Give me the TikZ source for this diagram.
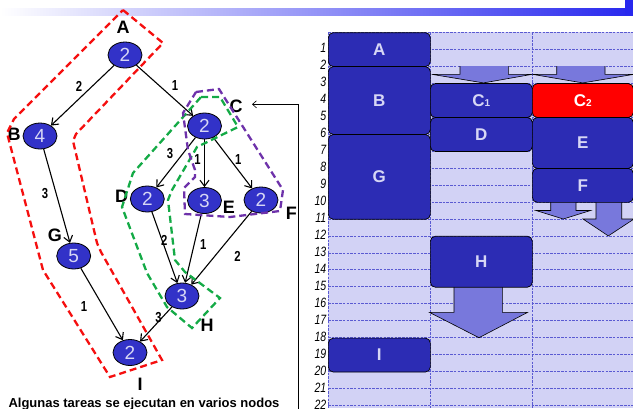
\documentclass[tikz,border=0pt]{standalone}
\usepackage{fontspec}
\setmainfont{Liberation Sans}
\newfontfamily\narrowfont[FakeStretch=0.78]{Liberation Sans}
\usetikzlibrary{shapes.geometric,arrows.meta}
\definecolor{boxblue}{RGB}{44,44,180}
\definecolor{nodeblue}{RGB}{50,50,200}
\definecolor{boxtext}{RGB}{215,215,245}
\definecolor{gridbg}{RGB}{210,210,245}
\definecolor{gridline}{RGB}{90,90,210}
\definecolor{arrowfill}{RGB}{120,120,220}
\definecolor{dred}{RGB}{245,15,15}
\definecolor{dgreen}{RGB}{20,170,70}
\definecolor{dpurple}{RGB}{110,50,170}
\definecolor{barmid}{RGB}{195,195,248}
\definecolor{barend}{RGB}{40,40,238}
\tikzset{
  gnode/.style={ellipse, draw=black, line width=0.8pt, fill=nodeblue, minimum width=34pt, minimum height=26pt, inner sep=0pt, text=boxtext, font=\fontsize{19}{19}\selectfont},
  glabel/.style={font=\bfseries\fontsize{18}{18}\selectfont, inner sep=0pt},
  wlabel/.style={font=\narrowfont\bfseries\fontsize{14.5}{14.5}\selectfont, inner sep=0pt},
  gedge/.style={draw, line width=1.1pt, -{Straight Barb[length=6pt,width=9pt]}},
  taskbox/.style={draw=black, line width=0.7pt, fill=boxblue, rounded corners=5pt, anchor=north west, inner sep=0pt, text=boxtext, font=\bfseries\fontsize{17}{17}\selectfont, minimum width=102pt},
  blockfill/.style={fill=arrowfill},
  blockline/.style={draw=black, line width=0.6pt},
  grp/.style={line width=2.3pt, dash pattern=on 7pt off 4pt},
  rowlab/.style={anchor=east, inner sep=0pt, font=\narrowfont\itshape\fontsize{13.5}{13.5}\selectfont},
  gridl/.style={draw=gridline, line width=0.8pt, dash pattern=on 2.5pt off 1.2pt}
}
\begin{document}
\begin{tikzpicture}[x=1pt,y=-1pt]
\useasboundingbox (0,0) rectangle (633,408);
\clip (0,0) rectangle (633,408);
% top bar
\shade[left color=white, middle color=barmid, right color=barend] (0,8) rectangle (633,15);
\fill[barend] (625,0) rectangle (633,15);
% grid
\fill[gridbg] (328,32.3) rectangle (633,408);
\foreach \k in {0,...,22} \draw[gridl] (328,{32.3+16.97*\k}) -- (633,{32.3+16.97*\k});
\foreach \x in {328,430,532} \draw[gridl] (\x,32.3) -- (\x,408);
\foreach \k in {1,...,22} \node[rowlab] (r\k) at (326.5,{32.3+16.97*\k-1}) {\k};
% block arrows
\fill[blockfill] (460,66.24) -- (460,74.3) -- (431.7,74.3) -- (483.5,82.9) -- (532.3,74.3) -- (508.3,74.3) -- (508.3,66.24) -- cycle;
\draw[blockline] (460,66.24) -- (460,74.3) -- (431.7,74.3) -- (483.5,82.9) -- (532.3,74.3) -- (508.3,74.3) -- (508.3,66.24);
\fill[blockfill] (556.7,66.24) -- (556.7,74.3) -- (532.3,74.3) -- (582.7,82.9) -- (634,74.3) -- (605,74.3) -- (605,66.24) -- cycle;
\draw[blockline] (556.7,66.24) -- (556.7,74.3) -- (532.3,74.3) -- (582.7,82.9) -- (634,74.3) -- (605,74.3) -- (605,66.24);
\fill[blockfill] (550.7,202) -- (550.7,210.5) -- (536,210.5) -- (563.3,219) -- (590.5,210.5) -- (576,210.5) -- (576,202) -- cycle;
\draw[blockline] (550.7,202) -- (550.7,210.5) -- (536,210.5) -- (563.3,219) -- (590.5,210.5) -- (576,210.5) -- (576,202);
\fill[blockfill] (596,202) -- (596,219) -- (583,219) -- (608.3,235.9) -- (634,219) -- (621.7,219) -- (621.7,202) -- cycle;
\draw[blockline] (596,202) -- (596,219) -- (583,219) -- (608.3,235.9) -- (634,219) -- (621.7,219) -- (621.7,202);
\fill[blockfill] (454,286.85) -- (454,312.3) -- (429.3,312.3) -- (479,337.7) -- (527.7,312.3) -- (502.3,312.3) -- (502.3,286.85) -- cycle;
\draw[blockline] (454,286.85) -- (454,312.3) -- (429.3,312.3) -- (479,337.7) -- (527.7,312.3) -- (502.3,312.3) -- (502.3,286.85);
% task boxes
\node[taskbox, minimum height=33.94pt] (tA) at (328,32.3) {A};
\node[taskbox, minimum height=67.88pt] (tB) at (328,66.24) {B};
\node[taskbox, minimum height=84.85pt] (tG) at (328,134.12) {G};
\node[taskbox, minimum height=33.94pt] (tC1) at (430,83.21) {C{\fontsize{10}{10}\selectfont 1}};
\node[taskbox, minimum height=33.94pt, fill=red, text=white, minimum width=101pt] (tC2) at (532,83.21) {C{\fontsize{10}{10}\selectfont 2}};
\node[taskbox, minimum height=33.94pt] (tD) at (430,117.15) {D};
\node[taskbox, minimum height=50.91pt, minimum width=101pt] (tE) at (532,117.15) {E};
\node[taskbox, minimum height=33.94pt, minimum width=101pt] (tF) at (532,168.06) {F};
\node[taskbox, minimum height=50.91pt] (tH) at (430,235.94) {H};
\node[taskbox, minimum height=33.94pt] (tI) at (328,337.76) {I};
% graph nodes
\node[gnode] (A) at (125,55) {2};
\node[gnode] (B) at (40,136) {4};
\node[gnode] (C) at (204.5,126) {2};
\node[gnode] (D) at (147.3,199) {2};
\node[gnode] (E) at (204.5,200.5) {3};
\node[gnode] (F) at (261,200) {2};
\node[gnode] (G) at (73.7,256) {5};
\node[gnode] (H) at (182,296) {3};
\node[gnode] (I) at (130,352.5) {2};
% edges
\draw[gedge] (A) -- (B);
\draw[gedge] (A) -- (C);
\draw[gedge] (B) -- (G);
\draw[gedge] (C) -- (D);
\draw[gedge] (C) -- (E);
\draw[gedge] (C) -- (F);
\draw[gedge] (D) -- (H);
\draw[gedge] (E) -- (H);
\draw[gedge] (F) -- (H);
\draw[gedge] (G) -- (I);
\draw[gedge] (H) -- (I);
% weights
\node[wlabel] (wAB) at (79,86) {2};
\node[wlabel] (wAC) at (175,86) {1};
\node[wlabel] (wBG) at (45,193.3) {3};
\node[wlabel] (wCD) at (170,154) {3};
\node[wlabel] (wCE) at (197.5,160) {1};
\node[wlabel] (wCF) at (238.3,160) {1};
\node[wlabel] (wDH) at (164.3,240) {2};
\node[wlabel] (wEH) at (203.3,245) {1};
\node[wlabel] (wFH) at (237.5,256.5) {2};
\node[wlabel] (wGI) at (84,306.7) {1};
\node[wlabel] (wHI) at (158.5,318) {3};
% node names
\node[glabel] (lA) at (123,27) {A};
\node[glabel] (lB) at (14,134.5) {B};
\node[glabel] (lC) at (236,106.5) {C};
\node[glabel] (lD) at (121.7,196.7) {D};
\node[glabel] (lE) at (229,207) {E};
\node[glabel] (lF) at (291.3,213) {F};
\node[glabel] (lG) at (55,235) {G};
\node[glabel] (lH) at (207,325) {H};
\node[glabel] (lI) at (140,384) {I};
% groups
\draw[grp, dred] (123,10) -- (163,43) -- (76,134) -- (73,141) -- (97,243) -- (101,252) -- (162,360) -- (110,377) -- (43,270) -- (7,133) -- (14,119) -- cycle;
\draw[grp, dgreen] (201,97) -- (220,97) -- (238,127) -- (197,147) -- (172,190) -- (168,200) -- (175,260) -- (185,272) -- (220,298) -- (192,328) -- (167,307) -- (147,273) -- (122,207) -- (133,173) -- cycle;
\draw[grp, dpurple] (196,92) -- (219,89) -- (283,190) -- (280,211) -- (230,217) -- (185,214) -- (184,188) -- (195,177) -- (195,170) -- (188,150) -- (183,113) -- cycle;
% connector to C
\coordinate (cbot) at (298,410);
\coordinate (cin) at (252,104.3);
\draw[line width=0.6pt, -{Straight Barb[length=4pt,width=7pt]}] (cbot) |- (cin);
% caption
\node[anchor=base, inner sep=0pt, font=\bfseries\fontsize{13}{13}\selectfont] (cap) at (144,407.3) {Algunas tareas se ejecutan en varios nodos};
\end{tikzpicture}
\end{document}
